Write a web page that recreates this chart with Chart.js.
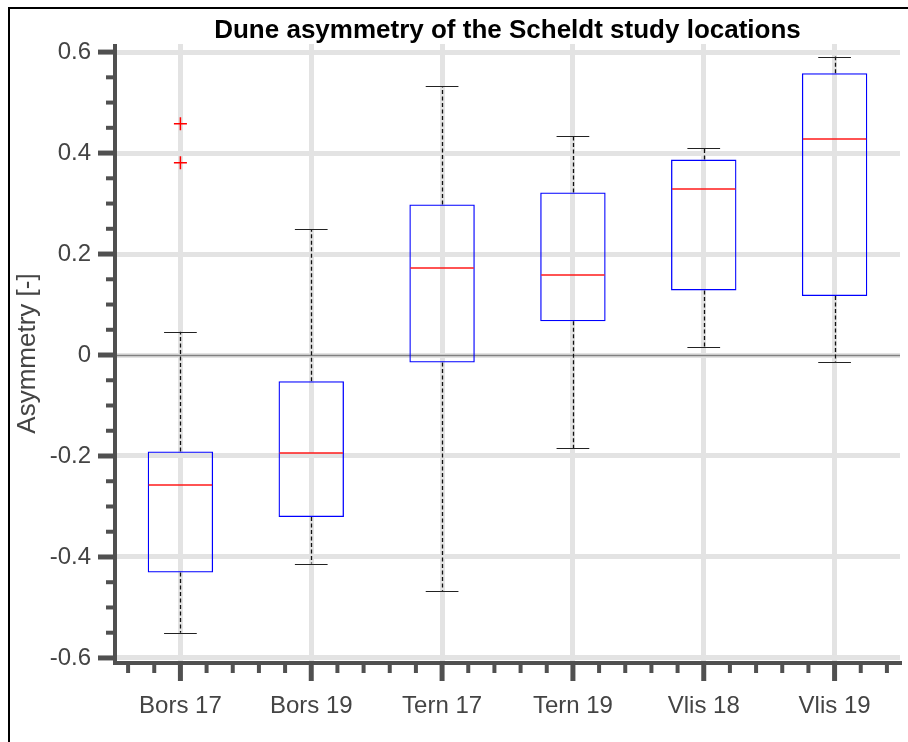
<!DOCTYPE html>
<html>
<head>
<meta charset="utf-8">
<script src="https://cdn.jsdelivr.net/npm/chart.js@4.4.1/dist/chart.umd.min.js"></script>
<style>
  html, body { margin: 0; padding: 0; background: #fff; }
</style>
</head>
<body>
<canvas id="box-chart" width="908" height="742"></canvas>
<script>
// box plot statistics per study location
const categories = ["Bors 17", "Bors 19", "Tern 17", "Tern 19", "Vlis 18", "Vlis 19"];
const lowerWhisker = [-0.550, -0.413, -0.467, -0.184, 0.015, -0.013];
const q1 = [-0.431, -0.321, -0.015, 0.067, 0.128, 0.117];
const median = [-0.258, -0.194, 0.172, 0.158, 0.328, 0.428];
const q3 = [-0.191, -0.052, 0.298, 0.322, 0.387, 0.558];
const upperWhisker = [0.046, 0.249, 0.533, 0.434, 0.411, 0.591];
const outlierCat = [1, 1];
const outlierValue = [0.458, 0.381];
const yTicks = [-0.6, -0.4, -0.2, 0, 0.2, 0.4, 0.6];

const FONT = "'Liberation Sans', Arial, sans-serif";
const AXIS = "#505050";
const GRID = "#e3e3e3";

const boxExtras = {
  id: "boxExtras",
  beforeDatasetsDraw(chart) {
    const { ctx, chartArea, scales: { x, y } } = chart;
    ctx.save();
    // zero line
    const y0 = Math.round(y.getPixelForValue(0)) + 0.5;
    ctx.strokeStyle = "#808080";
    ctx.lineWidth = 1.5;
    ctx.beginPath();
    ctx.moveTo(chartArea.left, y0);
    ctx.lineTo(chartArea.right, y0);
    ctx.stroke();

    // whiskers + caps
    categories.forEach((c, i) => {
      const cx = Math.round(x.getPixelForValue(i + 1)) + 0.5;
      ctx.strokeStyle = "#111";
      ctx.lineWidth = 1.3;
      ctx.setLineDash([4, 2.5]);
      ctx.beginPath();
      ctx.moveTo(cx, y.getPixelForValue(q3[i]));
      ctx.lineTo(cx, y.getPixelForValue(upperWhisker[i]));
      ctx.moveTo(cx, y.getPixelForValue(q1[i]));
      ctx.lineTo(cx, y.getPixelForValue(lowerWhisker[i]));
      ctx.stroke();
      ctx.setLineDash([]);
      ctx.strokeStyle = "#222";
      ctx.lineWidth = 1.2;
      const xl = x.getPixelForValue(i + 1 - 0.125);
      const xr = x.getPixelForValue(i + 1 + 0.125);
      [upperWhisker[i], lowerWhisker[i]].forEach(v => {
        const py = Math.round(y.getPixelForValue(v)) + 0.5;
        ctx.beginPath();
        ctx.moveTo(xl, py);
        ctx.lineTo(xr, py);
        ctx.stroke();
      });
    });
    ctx.restore();
  },
  afterDatasetsDraw(chart) {
    const { ctx, scales: { x, y } } = chart;
    ctx.save();
    ctx.strokeStyle = "#ff1a1a";
    ctx.lineWidth = 1.4;
    median.forEach((m, i) => {
      const py = Math.round(y.getPixelForValue(m));
      ctx.beginPath();
      ctx.moveTo(x.getPixelForValue(i + 1 - 0.25) + 1, py);
      ctx.lineTo(x.getPixelForValue(i + 1 + 0.25) - 1, py);
      ctx.stroke();
    });
    ctx.restore();
  },
  afterDraw(chart) {
    const { ctx, chartArea, scales: { x, y } } = chart;
    ctx.save();
    ctx.strokeStyle = AXIS;
    ctx.lineCap = "butt";
    // axis lines
    ctx.lineWidth = 4;
    ctx.beginPath();
    ctx.moveTo(chartArea.left, chartArea.top);
    ctx.lineTo(chartArea.left, chartArea.bottom + 2);
    ctx.moveTo(chartArea.left - 2, chartArea.bottom);
    ctx.lineTo(chartArea.right + 2, chartArea.bottom);
    ctx.stroke();
    // y ticks: major every 0.2, minor every 0.05
    for (let k = -12; k <= 12; k++) {
      const v = k * 0.05;
      const py = y.getPixelForValue(v);
      const major = k % 4 === 0;
      ctx.lineWidth = major ? 5 : 4;
      ctx.beginPath();
      ctx.moveTo(chartArea.left, py);
      ctx.lineTo(chartArea.left - (major ? 17 : 9), py);
      ctx.stroke();
    }
    // x ticks: major at each location, minor every 0.2
    for (let k = 3; k <= 32; k++) {
      const v = k * 0.2;
      const px = x.getPixelForValue(v);
      const major = k % 5 === 0;
      ctx.lineWidth = major ? 5 : 4;
      ctx.beginPath();
      ctx.moveTo(px, chartArea.bottom);
      ctx.lineTo(px, chartArea.bottom + (major ? 18 : 10));
      ctx.stroke();
    }
    // figure frame
    ctx.strokeStyle = "#000";
    ctx.lineWidth = 2;
    ctx.beginPath();
    ctx.moveTo(9, chart.height);
    ctx.lineTo(9, 8);
    ctx.lineTo(chart.width, 8);
    ctx.stroke();
    ctx.restore();
  }
};

new Chart(document.getElementById("box-chart"), {
  type: "bar",
  data: {
    datasets: [
      {
        label: "IQR",
        xAxisID: "x",
        yAxisID: "y",
        data: categories.map((c, i) => ({ x: i + 1, y: [q1[i], q3[i]] })),
        backgroundColor: "rgba(0,0,0,0)",
        borderColor: "#0000ff",
        borderWidth: 1.3,
        borderSkipped: false,
        barPercentage: 0.5,
        categoryPercentage: 1,
        grouped: false
      },
      {
        type: "scatter",
        label: "Outliers",
        xAxisID: "x",
        yAxisID: "y",
        data: outlierCat.map((c, i) => ({ x: c, y: outlierValue[i] })),
        pointStyle: "cross",
        pointRadius: 6.5,
        borderColor: "#ff0000",
        borderWidth: 1.5
      }
    ]
  },
  options: {
    responsive: false,
    animation: false,
    layout: { padding: { left: 0, right: 7, top: 0, bottom: 0 } },
    plugins: {
      legend: { display: false },
      tooltip: { enabled: false },
      title: { display: false }
    },
    scales: {
      x: {
        type: "linear",
        position: "bottom",
        min: 0.5,
        max: 6.5,
        offset: false,
        afterBuildTicks: s => { s.ticks = categories.map((c, i) => ({ value: i + 1 })); },
        afterFit: s => { s.height = 79; },
        grid: { color: GRID, lineWidth: 5, drawTicks: false, offset: false },
        border: { display: false },
        ticks: {
          autoSkip: false,
          maxRotation: 0,
          padding: 29,
          color: "#444",
          font: { family: FONT, size: 24 },
          callback: v => categories[v - 1]
        }
      },
      y: {
        type: "linear",
        min: -0.61,
        max: 0.616,
        afterBuildTicks: s => { s.ticks = yTicks.map(v => ({ value: v })); },
        afterFit: s => { s.width = 115; },
        grid: { color: GRID, lineWidth: 5, drawTicks: false },
        border: { display: false },
        ticks: {
          padding: 24,
          color: "#444",
          font: { family: FONT, size: 24 },
          callback: v => (Math.abs(v) < 1e-9 ? "0" : v.toFixed(1))
        },
        title: {
          display: true,
          text: "Asymmetry [-]",
          color: "#444",
          font: { family: FONT, size: 26 },
          padding: { top: 12, bottom: 0 }
        }
      },
      // top axis only carries the title, centred over the plot area
      xTop: {
        type: "linear",
        position: "top",
        min: 0.5,
        max: 6.5,
        afterFit: s => { s.height = 44; },
        grid: { display: false },
        border: { display: false },
        ticks: { display: false },
        title: {
          display: true,
          text: "Dune asymmetry of the Scheldt study locations",
          color: "#000",
          font: { family: FONT, size: 26, weight: "bold", lineHeight: 1 },
          padding: { top: 18, bottom: 0 }
        }
      }
    }
  },
  plugins: [boxExtras]
});
</script>
</body>
</html>
